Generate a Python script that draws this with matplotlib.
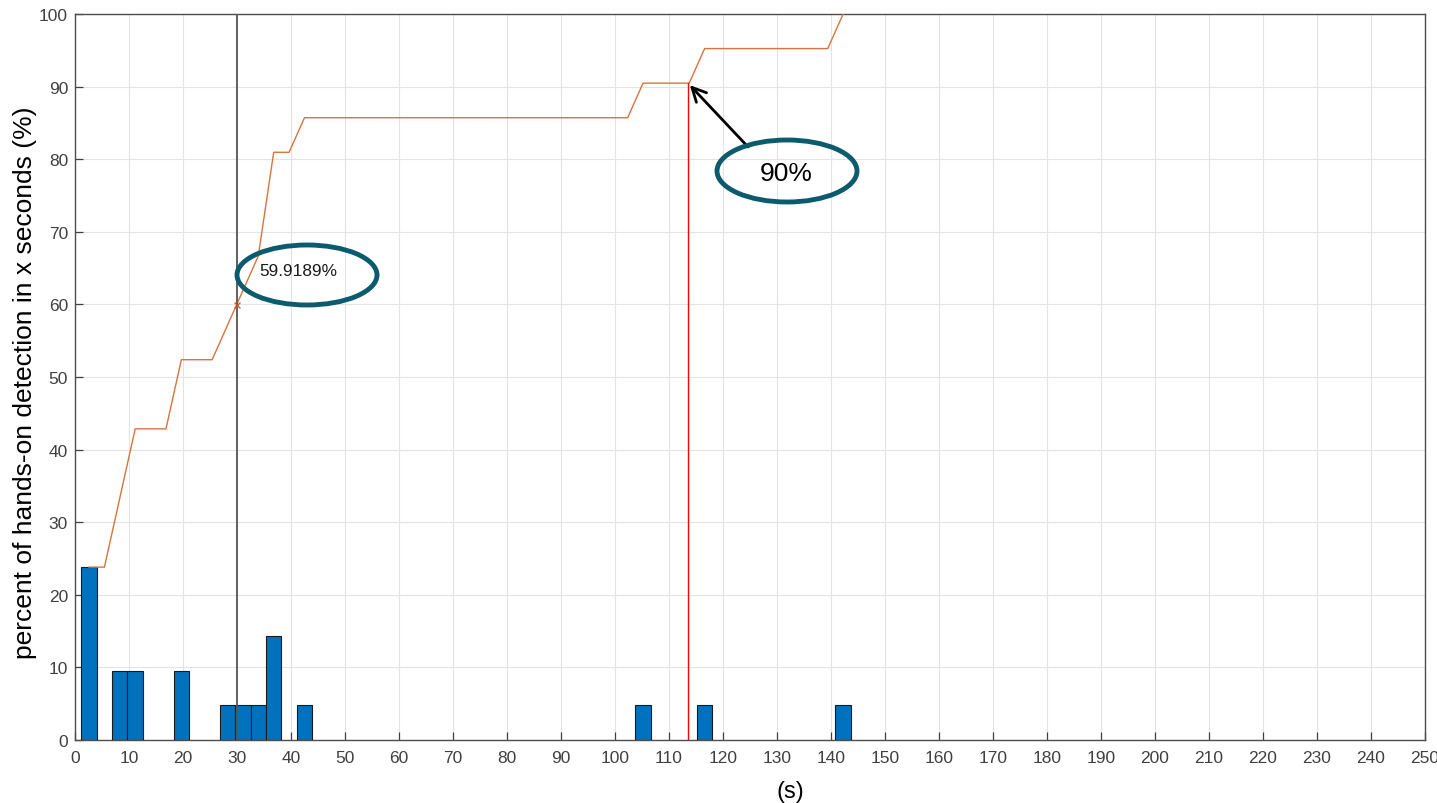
import numpy as np
import matplotlib.pyplot as plt
from matplotlib.patches import Ellipse

plt.rcParams['font.family'] = ['Liberation Sans', 'DejaVu Sans']

# Histogram of detection times: 50 equal bins, percent of 21 samples per bin
bin_start = 1.17
bin_width = 2.85
n_bins = 50
bar_bins = [0, 2, 3, 6, 9, 10, 11, 12, 14, 36, 40, 49]
bar_counts = [5, 2, 2, 2, 1, 1, 1, 3, 1, 1, 1, 1]
n_samples = 21

x_ticks = list(range(0, 251, 10))
y_ticks = list(range(0, 101, 10))

marker_x = 30
marker_y = 59.9189
p90_x = 113.5
p90_y = 90.48

counts = np.zeros(n_bins)
counts[bar_bins] = bar_counts
percent = counts / n_samples * 100
edges = bin_start + bin_width * np.arange(n_bins + 1)
centers = (edges[:-1] + edges[1:]) / 2
cumulative = np.cumsum(percent)

W, H = 1437, 804
fig = plt.figure(figsize=(W / 100, H / 100), dpi=100)
ax = fig.add_axes([75 / W, 1 - 741 / H, 1350 / W, 726 / H])

nz = counts > 0
ax.bar(edges[:-1][nz], percent[nz], width=bin_width, align='edge',
       color='#0072BD', edgecolor='#1a1a1a', linewidth=0.8, zorder=3)
ax.plot(centers, cumulative, color='#D9733F', linewidth=1.0, zorder=4)

# reference lines
ax.axvline(marker_x, color='#555555', linewidth=1.3, zorder=5)
ax.plot([p90_x, p90_x], [0, p90_y], color='red', linewidth=1.0, zorder=5)
ax.plot([marker_x], [marker_y], marker='x', color='#D95319', markersize=5,
        markeredgewidth=0.9, zorder=6)

ax.set_xlim(0, 250)
ax.set_ylim(0, 100)
ax.set_xticks(x_ticks)
ax.set_yticks(y_ticks)
ax.tick_params(direction='in', length=6, width=0.9, colors='#404040',
               labelsize=12.5, labelcolor='#404040')
ax.tick_params(axis='x', pad=7)
ax.tick_params(axis='y', pad=5)
ax.grid(True, color='#e3e3e3', linewidth=0.8, zorder=0)
ax.set_axisbelow(True)
for s in ax.spines.values():
    s.set_color('#4d4d4d')
    s.set_linewidth(1.0)

fig.text(25 / W, 1 - 383 / H, 'percent of hands-on detection in x seconds (%)',
         fontsize=19, rotation=90, ha='center', va='center', color='black')
fig.text(790 / W, 1 - 792 / H, '(s)', fontsize=17, ha='center',
         va='center', color='black')

# callouts
fig.patches.append(Ellipse((307 / W, 1 - 276 / H), 140 / W, 60 / H,
                           transform=fig.transFigure, fill=False,
                           edgecolor='#0b5a6e', linewidth=3.5))
fig.text(298 / W, 1 - 272 / H, '59.9189%', fontsize=12.4,
         ha='center', va='center', color='#1a1a1a')

fig.patches.append(Ellipse((787 / W, 1 - 172 / H), 140 / W, 62 / H,
                           transform=fig.transFigure, fill=False,
                           edgecolor='#0b5a6e', linewidth=3.5))
fig.text(786 / W, 1 - 174 / H, '90%', fontsize=19,
         ha='center', va='center', color='black')

ax.annotate('', xy=(p90_x, p90_y), xycoords='data',
            xytext=(750 / W, 1 - 150 / H), textcoords='figure fraction',
            arrowprops=dict(arrowstyle='->', color='black', lw=2.0,
                            mutation_scale=25))

fig.savefig('out.png', dpi=100)
